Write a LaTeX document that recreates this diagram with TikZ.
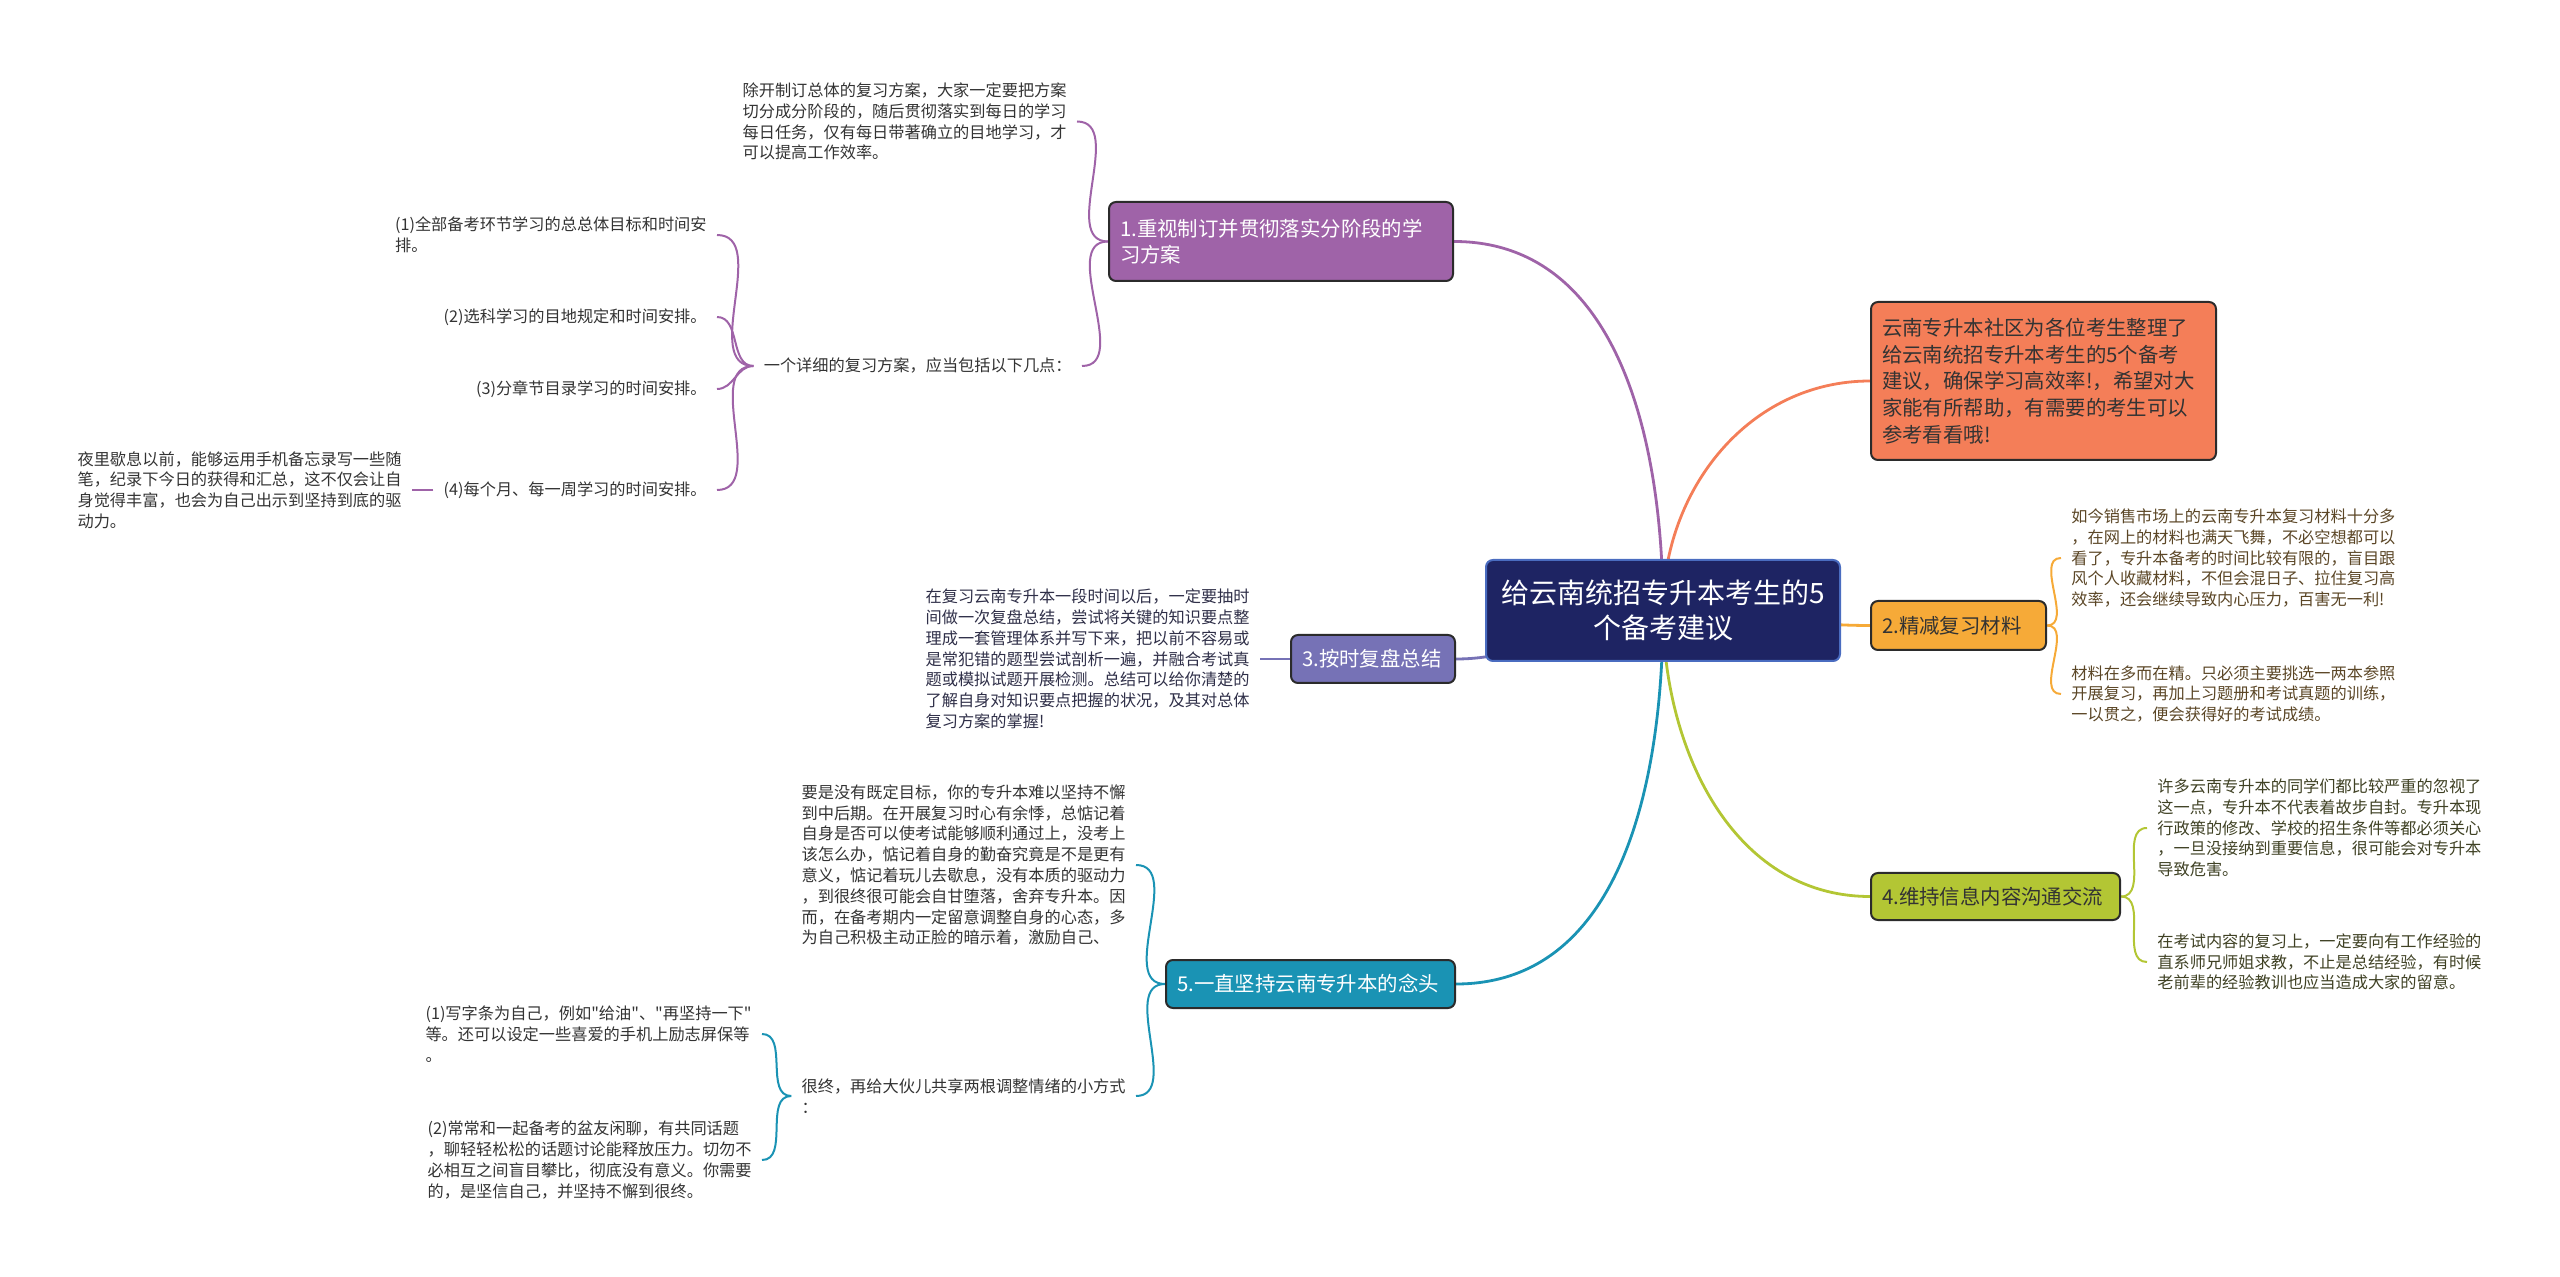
\documentclass[tikz,border=0pt]{standalone}
\usepackage{fontspec}
\setmainfont{Noto Sans CJK SC}[Ligatures=TeXOff]
\usepackage{xcolor}
\usepackage{tikz}
\usetikzlibrary{positioning, backgrounds}

\definecolor{rootblue}{HTML}{1E2463}
\definecolor{rootedge}{HTML}{4A6CC0}
\definecolor{boxedge}{HTML}{2B2B2B}
\definecolor{planpurple}{HTML}{9F63A8}
\definecolor{introorange}{HTML}{F47E58}
\definecolor{matamber}{HTML}{F6AA38}
\definecolor{reviewslate}{HTML}{7672B6}
\definecolor{infogreen}{HTML}{B3C634}
\definecolor{keepteal}{HTML}{1A93B4}
\definecolor{leafgray}{HTML}{333333}
\definecolor{matbrown}{HTML}{5B4626}
\definecolor{infoolive}{HTML}{3F4124}
\definecolor{reviewink}{HTML}{2F2F48}

\begin{document}
\begin{tikzpicture}[
    x=0.5pt, y=0.5pt,
    rootbox/.style={draw=rootedge, line width=1pt, fill=rootblue, rounded corners=3.5pt, text=white,
                    align=center, minimum width=177pt, minimum height=50.5pt, font=\fontsize{14}{17.5}\selectfont},
    topicbox/.style={draw=boxedge, line width=1pt, rounded corners=3.5pt, inner xsep=5.5pt, inner ysep=0pt,
                     align=left, font=\fontsize{10.2}{13.3}\selectfont},
    leaftext/.style={inner xsep=5pt, inner ysep=1pt, align=left, font=\fontsize{8.1}{10.4}\selectfont},
    branch/.style={line width=1.4pt},
    twig/.style={line width=1pt},
]
\useasboundingbox (0,0) rectangle (2560,-1277);

% === Centre ===
\node[rootbox] (root) at (1663,-610.5) {给云南统招专升本考生的5\\个备考建议};

% === Topics ===
\node[topicbox, fill=planpurple, text=white, text width=161pt, minimum height=39.5pt] (plan) at (1281,-241.5) {1.重视制订并贯彻落实分阶段的学\\习方案};
\node[topicbox, fill=introorange, text=leafgray, text width=161.5pt, minimum height=79pt] (intro) at (2043.5,-381) {云南专升本社区为各位考生整理了\\给云南统招专升本考生的5个备考\\建议，确保学习高效率!，希望对大\\家能有所帮助，有需要的考生可以\\参考看看哦!};
\node[topicbox, fill=matamber, text=leafgray, text width=76.5pt, minimum height=24.5pt] (mat) at (1958.5,-625.5) {2.精减复习材料};
\node[topicbox, fill=reviewslate, text=white, text width=71pt, minimum height=24pt] (review) at (1373,-659) {3.按时复盘总结};
\node[topicbox, fill=infogreen, text=leafgray, text width=113.5pt, minimum height=23.5pt] (info) at (1995.5,-896.5) {4.维持信息内容沟通交流};
\node[topicbox, fill=keepteal, text=white, text width=133.5pt, minimum height=24pt] (keep) at (1310.5,-984) {5.一直坚持云南专升本的念头};

% === Topic 1 leaves ===
\node[leaftext, text=leafgray, anchor=east] (plan_a) at (1077,-121.5) {除开制订总体的复习方案，大家一定要把方案\\切分成分阶段的，随后贯彻落实到每日的学习\\每日任务，仅有每日带著确立的目地学习，才\\可以提高工作效率。};
\node[leaftext, text=leafgray, anchor=east] (plan_b) at (1082,-366) {一个详细的复习方案，应当包括以下几点：};
\node[leaftext, text=leafgray, anchor=east] (item_1) at (717,-235) {(1)全部备考环节学习的总总体目标和时间安\\排。};
\node[leaftext, text=leafgray, anchor=east] (item_2) at (717,-317) {(2)选科学习的目地规定和时间安排。};
\node[leaftext, text=leafgray, anchor=east] (item_3) at (717,-389) {(3)分章节目录学习的时间安排。};
\node[leaftext, text=leafgray, anchor=east] (item_4) at (717,-490) {(4)每个月、每一周学习的时间安排。};
\node[leaftext, text=leafgray, anchor=east] (night) at (412,-490) {夜里歇息以前，能够运用手机备忘录写一些随\\笔，纪录下今日的获得和汇总，这不仅会让自\\身觉得丰富，也会为自己出示到坚持到底的驱\\动力。};

% === Topic 2 leaves ===
\node[leaftext, text=matbrown, anchor=west] (mat_a) at (2061,-558) {如今销售市场上的云南专升本复习材料十分多\\，在网上的材料也满天飞舞，不必空想都可以\\看了，专升本备考的时间比较有限的，盲目跟\\风个人收藏材料，不但会混日子、拉住复习高\\效率，还会继续导致内心压力，百害无一利!};
\node[leaftext, text=matbrown, anchor=west] (mat_b) at (2061,-694) {材料在多而在精。只必须主要挑选一两本参照\\开展复习，再加上习题册和考试真题的训练，\\一以贯之，便会获得好的考试成绩。};

% === Topic 3 leaf ===
\node[leaftext, text=reviewink, anchor=east] (review_a) at (1260,-659) {在复习云南专升本一段时间以后，一定要抽时\\间做一次复盘总结，尝试将关键的知识要点整\\理成一套管理体系并写下来，把以前不容易或\\是常犯错的题型尝试剖析一遍，并融合考试真\\题或模拟试题开展检测。总结可以给你清楚的\\了解自身对知识要点把握的状况，及其对总体\\复习方案的掌握!};

% === Topic 4 leaves ===
\node[leaftext, text=infoolive, anchor=west] (info_a) at (2147,-828) {许多云南专升本的同学们都比较严重的忽视了\\这一点，专升本不代表着故步自封。专升本现\\行政策的修改、学校的招生条件等都必须关心\\，一旦没接纳到重要信息，很可能会对专升本\\导致危害。};
\node[leaftext, text=infoolive, anchor=west] (info_b) at (2147,-962) {在考试内容的复习上，一定要向有工作经验的\\直系师兄师姐求教，不止是总结经验，有时候\\老前辈的经验教训也应当造成大家的留意。};

% === Topic 5 leaves ===
\node[leaftext, text=leafgray, anchor=east] (keep_a) at (1136,-865) {要是没有既定目标，你的专升本难以坚持不懈\\到中后期。在开展复习时心有余悸，总惦记着\\自身是否可以使考试能够顺利通过上，没考上\\该怎么办，惦记着自身的勤奋究竟是不是更有\\意义，惦记着玩儿去歇息，没有本质的驱动力\\，到很终很可能会自甘堕落，舍弃专升本。因\\而，在备考期内一定留意调整自身的心态，多\\为自己积极主动正脸的暗示着，激励自己、};
\node[leaftext, text=leafgray, anchor=east] (keep_b) at (1136,-1096) {很终，再给大伙儿共享两根调整情绪的小方式\\：};
\node[leaftext, text=leafgray, anchor=east] (tip_1) at (762,-1034) {(1)写字条为自己，例如"给油"、"再坚持一下"\\等。还可以设定一些喜爱的手机上励志屏保等\\。};
\node[leaftext, text=leafgray, anchor=east] (tip_2) at (762,-1160) {(2)常常和一起备考的盆友闲聊，有共同话题\\，聊轻轻松松的话题讨论能释放压力。切勿不\\必相互之间盲目攀比，彻底没有意义。你需要\\的，是坚信自己，并坚持不懈到很终。};

% === Connectors ===
\begin{scope}[on background layer]
    \draw[branch, planpurple] (root.center) to[out=90, in=0] (plan.east);
    \draw[branch, introorange] (root.center) to[out=90, in=180] (intro.west);
    \draw[branch, matamber] (root.center) to[out=0, in=180] (mat.west);
    \draw[branch, reviewslate] (root.center) to[out=180, in=0] (review.east);
    \draw[branch, infogreen] (root.center) to[out=270, in=180] (info.west);
    \draw[branch, keepteal] (root.center) to[out=270, in=0] (keep.east);

    \draw[twig, planpurple] (plan.west) to[out=180, in=0] (plan_a.east);
    \draw[twig, planpurple] (plan.west) to[out=180, in=0] (plan_b.east);
    \foreach \k in {1,...,4}
        \draw[twig, planpurple] (plan_b.west) to[out=180, in=0] (item_\k.east);
    \draw[twig, planpurple] (item_4.west) -- (night.east);

    \draw[twig, matamber] (mat.east) to[out=0, in=180] (mat_a.west);
    \draw[twig, matamber] (mat.east) to[out=0, in=180] (mat_b.west);

    \draw[twig, reviewslate] (review.west) -- (review_a.east);

    \draw[twig, infogreen] (info.east) to[out=0, in=180] (info_a.west);
    \draw[twig, infogreen] (info.east) to[out=0, in=180] (info_b.west);

    \draw[twig, keepteal] (keep.west) to[out=180, in=0] (keep_a.east);
    \draw[twig, keepteal] (keep.west) to[out=180, in=0] (keep_b.east);
    \draw[twig, keepteal] (keep_b.west) to[out=180, in=0] (tip_1.east);
    \draw[twig, keepteal] (keep_b.west) to[out=180, in=0] (tip_2.east);
\end{scope}

\end{tikzpicture}
\end{document}
